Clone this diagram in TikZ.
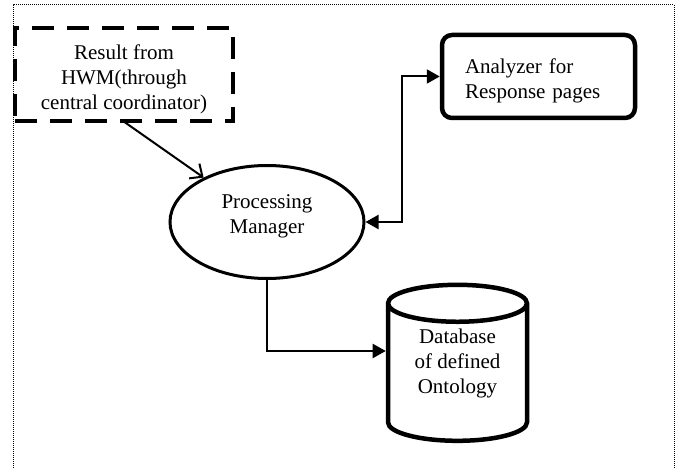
\documentclass[tikz,border=0pt]{standalone}
\usepackage{fontspec}
\setmainfont{Liberation Serif}
\usetikzlibrary{shapes.geometric,arrows.meta}

\begin{document}
\begin{tikzpicture}[x=1pt,y=-1pt,font=\fontsize{21}{25}\selectfont,
result/.style={draw,line width=4pt,dash pattern=on 22pt off 13pt,minimum width=218pt,minimum height=93pt,align=center},
manager/.style={draw,ellipse,line width=3pt,minimum width=194pt,minimum height=113pt,align=center},
analyzer/.style={draw,rounded corners=10pt,line width=4.5pt,minimum width=193pt,minimum height=83pt,text width=147pt,align=left},
store/.style={draw,cylinder,shape border rotate=90,aspect=0.4,line width=4.5pt,minimum width=139pt,minimum height=156pt,align=center}]
\useasboundingbox (0,0) rectangle (681,468);
\draw[line width=1pt,dash pattern=on 1pt off 1pt] (13,468) |- (674,5) -- (674,468);
\node[result] (hwm) at (124,74.5) {\rule{0pt}{24pt}Result from\\HWM(through\\central coordinator)};
\node[manager] (pm) at (267,222) {Processing\\Manager\rule[-15pt]{0pt}{15pt}};
\node[analyzer] (an) at (538.5,76.5) {\rule{0pt}{24pt}Analyzer for\\Response pages};
\node[store,label={[align=center,yshift=13pt]center:Database\\of defined\\Ontology}] (db) at (457.5,376)
  {\phantom{Database}\\\phantom{of defined}\\\phantom{Ontology}};
\draw[line width=2pt,-{Straight Barb[length=10pt,width=18pt]}] (123,121) -- (pm);
\draw[line width=2pt,{Triangle[length=13pt,width=14pt]}-{Triangle[length=13pt,width=14pt]}] (pm.east) -- ++(36,0) |- (an.west);
\draw[line width=2pt,-{Triangle[length=13pt,width=14pt]}] (pm.south) |- ([yshift=25pt]db.west);
\end{tikzpicture}
\end{document}
